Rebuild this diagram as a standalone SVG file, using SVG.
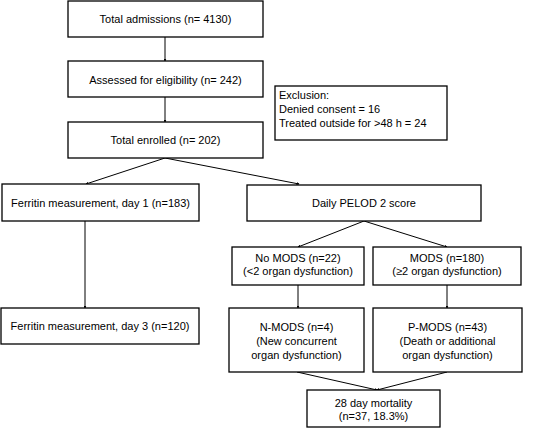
<svg xmlns="http://www.w3.org/2000/svg" width="536" height="428" viewBox="0 0 536 428">
<defs>
<style>
.b{fill:#fff;stroke:#000;stroke-width:1.3}
.t{font-family:"Liberation Sans",Arial,sans-serif;font-size:11px;fill:#000;text-anchor:middle}
.l{text-anchor:start}
.c{fill:none;stroke:#000;stroke-width:1}
</style>
<marker id="a" markerWidth="3" markerHeight="3" refX="2.5" refY="1.5" orient="auto" markerUnits="userSpaceOnUse">
<path d="M0,0 L3,1.5 L0,3 z" fill="#000"/>
</marker>
</defs>
<rect width="536" height="428" fill="#fff"/>
<g id="connectors">
<line class="c" x1="165" y1="37" x2="165" y2="61" marker-end="url(#a)"/>
<line class="c" x1="165" y1="97" x2="165" y2="122" marker-end="url(#a)"/>
<line class="c" x1="165" y1="158" x2="86" y2="184" marker-end="url(#a)"/>
<line class="c" x1="165" y1="158" x2="299" y2="184" marker-end="url(#a)"/>
<line class="c" x1="85" y1="221" x2="85" y2="308" marker-end="url(#a)"/>
<line class="c" x1="364" y1="221" x2="298" y2="247" marker-end="url(#a)"/>
<line class="c" x1="364" y1="221" x2="447" y2="247" marker-end="url(#a)"/>
<line class="c" x1="298" y1="285" x2="298" y2="308" marker-end="url(#a)"/>
<line class="c" x1="447" y1="285" x2="447" y2="308" marker-end="url(#a)"/>
<line class="c" x1="297" y1="372" x2="377" y2="390" marker-end="url(#a)"/>
<line class="c" x1="447" y1="372" x2="377" y2="390" marker-end="url(#a)"/>
</g>
<g id="admissions"><rect class="b" x="68" y="1" width="195" height="36"/><text class="t" x="165.5" y="23">Total admissions (n= 4130)</text></g>
<g id="assessed"><rect class="b" x="68" y="61" width="195" height="36"/><text class="t" x="165.5" y="84">Assessed for eligibility (n= 242)</text></g>
<g id="exclusion"><rect class="b" x="275" y="86" width="172" height="54"/><text class="t l" x="279" y="99">Exclusion:</text><text class="t l" x="279" y="113">Denied consent = 16</text><text class="t l" x="279" y="127">Treated outside for &gt;48 h = 24</text></g>
<g id="enrolled"><rect class="b" x="68" y="122" width="195" height="36"/><text class="t" x="165.5" y="144">Total enrolled (n= 202)</text></g>
<g id="ferritin1"><rect class="b" x="2" y="184" width="197" height="37"/><text class="t" x="100.5" y="207">Ferritin measurement, day 1 (n=183)</text></g>
<g id="pelod"><rect class="b" x="247" y="185" width="234" height="36"/><text class="t" x="364" y="207">Daily PELOD 2 score</text></g>
<g id="nomods"><rect class="b" x="232" y="247" width="132" height="38"/><text class="t" x="298" y="262">No MODS (n=22)</text><text class="t" x="298" y="275">(&lt;2 organ dysfunction)</text></g>
<g id="mods"><rect class="b" x="373" y="247" width="148" height="38"/><text class="t" x="447" y="262">MODS (n=180)</text><text class="t" x="447" y="275">(≥2 organ dysfunction)</text></g>
<g id="ferritin3"><rect class="b" x="1" y="308" width="198" height="36"/><text class="t" x="100" y="330">Ferritin measurement, day 3 (n=120)</text></g>
<g id="nmods"><rect class="b" x="229" y="308" width="135" height="64"/><text class="t" x="296.5" y="331">N-MODS (n=4)</text><text class="t" x="296.5" y="345">(New concurrent</text><text class="t" x="296.5" y="359">organ dysfunction)</text></g>
<g id="pmods"><rect class="b" x="373" y="308" width="149" height="64"/><text class="t" x="447.5" y="331">P-MODS (n=43)</text><text class="t" x="447.5" y="345">(Death or additional</text><text class="t" x="447.5" y="359">organ dysfunction)</text></g>
<g id="mortality"><rect class="b" x="307" y="390" width="133" height="37"/><text class="t" x="373.5" y="407">28 day mortality</text><text class="t" x="373.5" y="420">(n=37, 18.3%)</text></g>
</svg>
